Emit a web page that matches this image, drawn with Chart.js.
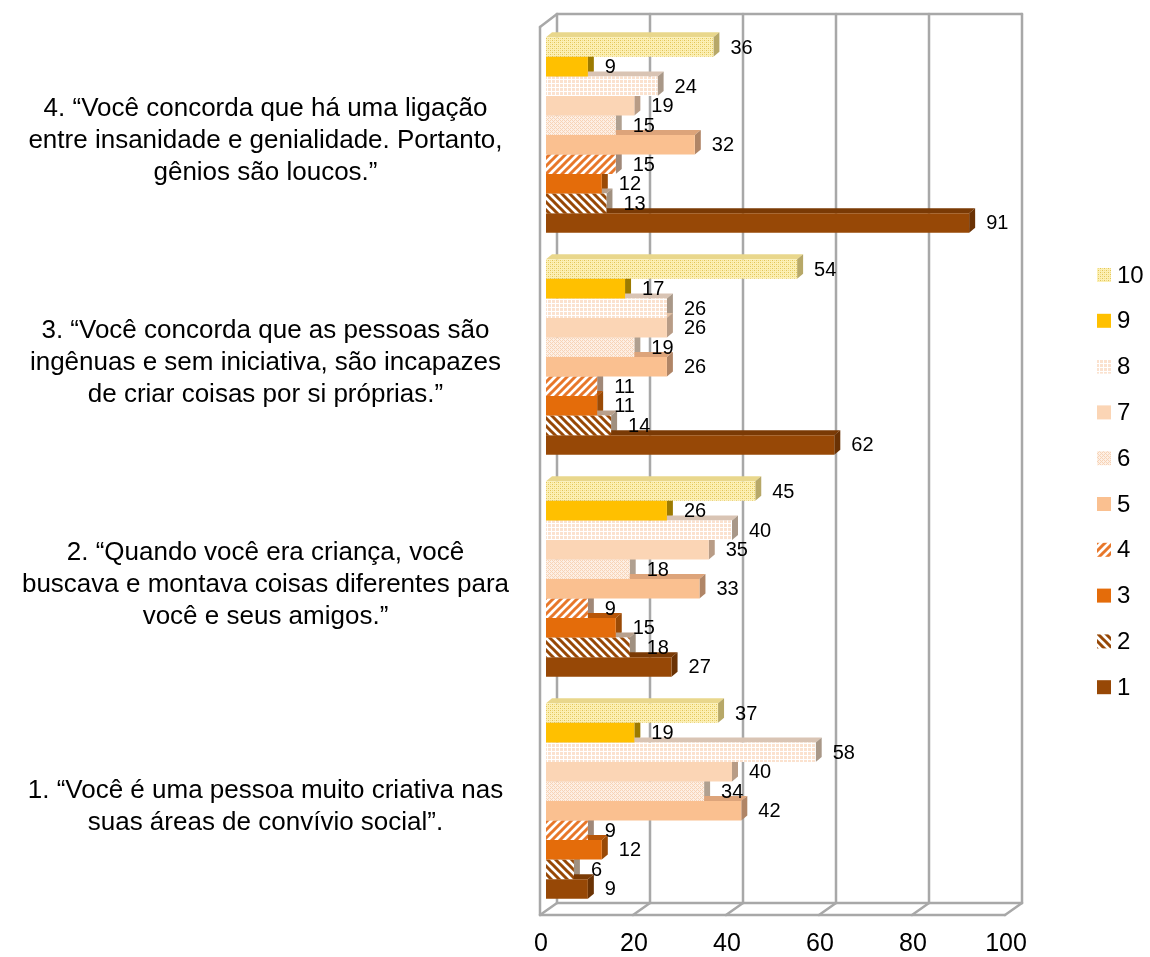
<!DOCTYPE html>
<html><head><meta charset="utf-8">
<script src="https://cdn.jsdelivr.net/npm/chart.js@4.4.0/dist/chart.umd.min.js"></script>
<style>html,body{margin:0;padding:0;background:#fff;} canvas{display:block;}</style>
</head><body>
<canvas id="c" width="1150" height="957"></canvas>
<script>
// ---- data ----
const categories = [
  ['4. “Você concorda que há uma ligação', 'entre insanidade e genialidade. Portanto,', 'gênios são loucos.”'],
  ['3. “Você concorda que as pessoas são', 'ingênuas e sem iniciativa, são incapazes', 'de criar coisas por si próprias.”'],
  ['2. “Quando você era criança, você', 'buscava e montava coisas diferentes para', 'você e seus amigos.”'],
  ['1. “Você é uma pessoa muito criativa nas', 'suas áreas de convívio social”.']
];
const seriesNames = ['10', '9', '8', '7', '6', '5', '4', '3', '2', '1'];
const s10 = [36, 54, 45, 37];
const s9  = [9, 17, 26, 19];
const s8  = [24, 26, 40, 58];
const s7  = [19, 26, 35, 40];
const s6  = [15, 19, 18, 34];
const s5  = [32, 26, 33, 42];
const s4  = [15, 11, 9, 9];
const s3  = [12, 11, 15, 12];
const s2  = [13, 14, 18, 6];
const s1  = [91, 62, 27, 9];
const xTicks = [0, 20, 40, 60, 80, 100];

// ---- styles ----
const FONT = "'Liberation Sans', Arial, sans-serif";
function mk(w, h, fn) { const c = document.createElement('canvas'); c.width = w; c.height = h; const g = c.getContext('2d'); fn(g); return g.createPattern(c, 'repeat'); }
const pDots = mk(4, 4, g => { g.fillStyle = '#FCF0B4'; g.fillRect(0,0,4,4); g.fillStyle = '#E2C456'; g.fillRect(0,0,1,1); g.fillRect(2,2,1,1); g.fillStyle='#F0DA88'; g.fillRect(2,0,1,1); g.fillRect(0,2,1,1); });
const pGrid = mk(4, 4, g => { g.fillStyle = '#FBE2CF'; g.fillRect(0,0,4,4); g.fillStyle = '#FFFFFF'; g.fillRect(3,0,1,4); g.fillRect(0,3,4,1); });
const pDiam = mk(4, 4, g => { g.fillStyle = '#FDEFE4'; g.fillRect(0,0,4,4); g.fillStyle = '#F7D3B6'; g.fillRect(0,0,1,1); g.fillRect(1,1,1,1); g.fillRect(2,2,1,1); g.fillRect(3,3,1,1); g.fillRect(2,0,1,1); g.fillRect(0,2,1,1); });
function stripes(color, dir) {
  return mk(8, 8, g => {
    g.fillStyle = '#FFFFFF'; g.fillRect(0,0,8,8);
    g.strokeStyle = color; g.lineWidth = 3; g.beginPath();
    if (dir > 0) { g.moveTo(-2,10); g.lineTo(10,-2); g.moveTo(-6,6); g.lineTo(6,-6); g.moveTo(2,14); g.lineTo(14,2); }
    else { g.moveTo(-2,-2); g.lineTo(10,10); g.moveTo(-6,2); g.lineTo(6,14); g.moveTo(2,-6); g.lineTo(14,6); }
    g.stroke();
  });
}
const fills = [pDots, '#FFC000', pGrid, '#FBD5B5', pDiam, '#FAC090', stripes('#E8772A', 1), '#E46C0A', stripes('#974806', -1), '#974806'];
const topFaces = ['#E9D78C', '#C99A00', '#D9C4B4', '#E2BFA2', '#E4CDBC', '#DDA47A', '#C9A58C', '#B85608', '#B8A08C', '#7A3A05'];
const sideFaces = ['#B7A868', '#9C7A00', '#A99888', '#B89C86', '#B0A090', '#B08566', '#A08878', '#9A4A06', '#A09080', '#6A3204'];
const seriesValues = [s10, s9, s8, s7, s6, s5, s4, s3, s2, s1];

const FRONT = -6, BACK = 11, DX = 6, DY = 5;
const frame3d = {
  id: 'frame3d',
  beforeDatasetsDraw(chart) {
    const ctx = chart.ctx, xs = chart.scales.x, a = chart.chartArea;
    const X = v => xs.getPixelForValue(v);
    const topB = 14, topF = 27, botB = a.bottom - 9, botF = a.bottom + 3;
    ctx.save();
    ctx.strokeStyle = '#A8A8A8'; ctx.lineWidth = 2.5; ctx.lineCap = 'round';
    const line = (x1, y1, x2, y2) => { ctx.beginPath(); ctx.moveTo(x1, y1); ctx.lineTo(x2, y2); ctx.stroke(); };
    xTicks.forEach(v => line(X(v) + BACK, topB, X(v) + BACK, botB));
    line(X(0) + BACK, topB, X(100) + BACK, topB);
    line(X(0) + BACK, botB, X(100) + BACK, botB);
    line(X(0) + FRONT, botF, X(100) + FRONT, botF);
    xTicks.forEach(v => line(X(v) + FRONT, botF, X(v) + BACK, botB));
    line(X(0) + FRONT, topF, X(0) + FRONT, botF);
    line(X(0) + FRONT, topF, X(0) + BACK, topB);
    // bar depth faces
    chart.data.datasets.forEach((ds, di) => {
      const meta = chart.getDatasetMeta(di);
      meta.data.forEach(el => {
        const x0 = el.base, x1 = el.x, yt = el.y - el.height / 2, yb = el.y + el.height / 2;
        ctx.fillStyle = topFaces[di];
        ctx.beginPath(); ctx.moveTo(x0, yt); ctx.lineTo(x1, yt); ctx.lineTo(x1 + DX, yt - DY); ctx.lineTo(x0 + DX, yt - DY); ctx.closePath(); ctx.fill();
        ctx.fillStyle = sideFaces[di];
        ctx.beginPath(); ctx.moveTo(x1, yt); ctx.lineTo(x1 + DX, yt - DY); ctx.lineTo(x1 + DX, yb - DY); ctx.lineTo(x1, yb); ctx.closePath(); ctx.fill();
      });
    });
    ctx.restore();
  },
  afterDatasetsDraw(chart) {
    const ctx = chart.ctx;
    ctx.save();
    ctx.font = '20px ' + FONT; ctx.fillStyle = '#000'; ctx.textBaseline = 'middle'; ctx.textAlign = 'left';
    chart.data.datasets.forEach((ds, di) => {
      chart.getDatasetMeta(di).data.forEach((el, i) => {
        ctx.fillText(String(ds.data[i]), el.x + 17, el.y + 1);
      });
    });
    // legend
    ctx.font = '24px ' + FONT;
    chart.data.datasets.forEach((ds, di) => {
      const y = 275 + di * 45.8;
      ctx.fillStyle = ds.backgroundColor;
      ctx.fillRect(1097, y - 7, 14, 14);
      ctx.fillStyle = '#000';
      ctx.fillText(ds.label, 1117, y + 1);
    });
    ctx.restore();
  }
};

new Chart(document.getElementById('c'), {
  type: 'bar',
  data: {
    labels: categories,
    datasets: seriesNames.map((n, i) => ({
      label: n, data: seriesValues[i], backgroundColor: fills[i], borderWidth: 0,
      barPercentage: 1.0, categoryPercentage: 0.88
    }))
  },
  options: {
    indexAxis: 'y', responsive: false, animation: false,
    layout: { padding: { left: 0, right: 139, top: 24, bottom: 0 } },
    plugins: { legend: { display: false }, tooltip: { enabled: false } },
    scales: {
      x: {
        min: 0, max: 100,
        afterBuildTicks: s => { s.ticks = xTicks.map(v => ({ value: v })); },
        afterFit: s => { s.height = 45; s.paddingLeft = 0; s.paddingRight = 0; },
        grid: { display: false }, border: { display: false },
        ticks: { font: { size: 25, family: FONT }, color: '#000', labelOffset: -5, padding: 9, maxRotation: 0 }
      },
      y: {
        afterFit: s => { s.width = 546; s.paddingTop = 0; s.paddingBottom = 0; },
        grid: { display: false, drawTicks: false }, border: { display: false },
        ticks: { font: { size: 26, family: FONT, lineHeight: 1.22 }, color: '#000', crossAlign: 'center', padding: 37, labelOffset: 6, autoSkip: false }
      }
    }
  },
  plugins: [frame3d]
});
</script>
</body></html>
